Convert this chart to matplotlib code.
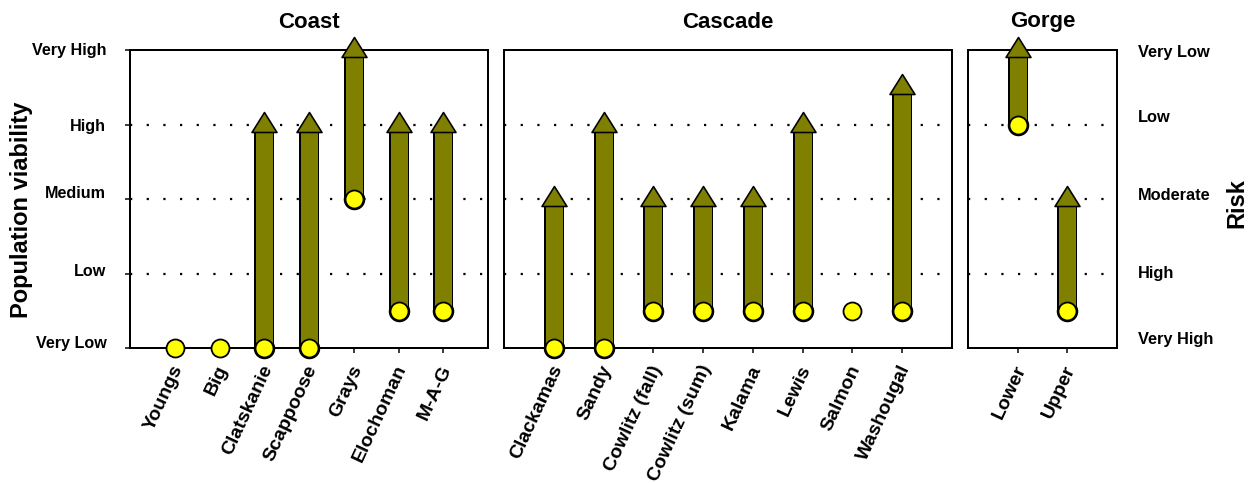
import numpy as np
import matplotlib
matplotlib.use("Agg")
import matplotlib.pyplot as plt
from matplotlib.path import Path
from matplotlib.transforms import ScaledTranslation, blended_transform_factory

plt.rcParams['font.family'] = ['Liberation Sans', 'DejaVu Sans']
plt.rcParams['font.weight'] = 'bold'

# ---------------- data ----------------
viability_levels = ["Very Low", "Low", "Medium", "High", "Very High"]
risk_levels = ["Very High", "High", "Moderate", "Low", "Very Low"]

coast_names = ["Youngs", "Big", "Clatskanie", "Scappoose", "Grays", "Elochoman", "M-A-G"]
coast_start = [0, 0, 0, 0, 2, 0.5, 0.5]
coast_end = [np.nan, np.nan, 3, 3, 4, 3, 3]

cascade_names = ["Clackamas", "Sandy", "Cowlitz (fall)", "Cowlitz (sum)", "Kalama",
                 "Lewis", "Salmon", "Washougal"]
cascade_start = [0, 0, 0.5, 0.5, 0.5, 0.5, 0.5, 0.5]
cascade_end = [2, 3, 2, 2, 2, 3, np.nan, 3.5]

gorge_names = ["Lower", "Upper"]
gorge_start = [3, 0.5]
gorge_end = [4, 2]

panel_titles = ["Coast", "Cascade", "Gorge"]

# ---------------- figure ----------------
W, H = 1253, 483
DPI = 100
fig = plt.figure(figsize=(W / DPI, H / DPI), dpi=DPI)
PX = 72.0 / DPI  # points per pixel

def axes_px(left, right, top, bottom):
    return fig.add_axes([left / W, 1 - bottom / H, (right - left) / W, (bottom - top) / H])

ax1 = axes_px(130, 488, 50, 348)
ax2 = axes_px(504, 952, 50, 348)
ax3 = axes_px(968, 1117, 50, 348)

OLIVE = '#808000'
YELLOW = '#FFFF00'
units_px = 298 / 4.0
head_base = 7 / units_px

head_path = Path([(-12.5, -7), (12.5, -7), (0, 13), (-12.5, -7)],
                 [Path.MOVETO, Path.LINETO, Path.LINETO, Path.CLOSEPOLY])


def draw_panel(ax, names, start, end, title):
    n = len(names)
    x = np.arange(n)
    ax.set_xlim(-1, n)
    ax.set_ylim(0, 4)
    for y in [1, 2, 3]:
        ax.axhline(y, color='black', lw=1.6, ls=(0, (1, 6.5)), zorder=1)
    for xi, s, e in zip(x, start, end):
        if not np.isnan(e):
            ax.plot([xi, xi], [s, e - head_base], color='black', lw=20 * PX,
                    solid_capstyle='butt', zorder=4, clip_on=False)
            ax.plot([xi], [s], marker='o', ms=20 * PX, mfc=OLIVE, mec='black',
                    mew=1.5 * PX, zorder=4.1, clip_on=False)
            ax.plot([xi, xi], [s, e - head_base], color=OLIVE, lw=17 * PX,
                    solid_capstyle='butt', zorder=4.2, clip_on=False)
            ax.plot([xi], [e], marker=head_path, ms=26 * PX, mfc=OLIVE, mec='black',
                    mew=1.6 * PX, zorder=4.3, clip_on=False, ls='none')
        ax.plot([xi], [s], marker='o', ms=18 * PX, mfc=YELLOW, mec='black',
                mew=1.8 * PX, zorder=5, clip_on=False, ls='none')
    ax.set_xticks(x)
    ax.set_xticklabels(names, rotation=65, ha='right', va='center',
                       rotation_mode='anchor', fontsize=14, fontweight='bold')
    ax.tick_params(axis='x', direction='out', length=5 * PX, width=1.5 * PX, pad=8)
    for lbl in ax.get_xticklabels():
        lbl.set_transform(lbl.get_transform() +
                          ScaledTranslation(4 / DPI, -2 / DPI, fig.dpi_scale_trans))
    for sp in ax.spines.values():
        sp.set_linewidth(2 * PX)
        sp.set_zorder(2.5)
    ax.text(0.5, 1 + 28 / 298, title, transform=ax.transAxes, ha='center', va='center',
            fontsize=16, fontweight='bold')


draw_panel(ax1, coast_names, coast_start, coast_end, panel_titles[0])
draw_panel(ax2, cascade_names, cascade_start, cascade_end, panel_titles[1])
draw_panel(ax3, gorge_names, gorge_start, gorge_end, panel_titles[2])

# left axis labels
ax1.set_yticks(range(5))
ax1.set_yticklabels(viability_levels, fontsize=11.6, fontweight='bold')
ax1.tick_params(axis='y', direction='out', length=5 * PX, width=1.5 * PX, pad=13.5)
left_offsets_px = [6, 4, 7, 0, 1]
for lbl, dy in zip(ax1.get_yticklabels(), left_offsets_px):
    lbl.set_transform(lbl.get_transform() + ScaledTranslation(0, dy / DPI, fig.dpi_scale_trans))
for ax in (ax2, ax3):
    ax.set_yticks([])

# right axis labels (risk)
trans = blended_transform_factory(ax3.transAxes, ax3.transData)
right_offsets = [0.11, 0.0, 0.05, 0.09, -0.04]
for i, (lab, off) in enumerate(zip(risk_levels, right_offsets)):
    ax3.text((1138 - 968) / 149, i + off, lab, transform=trans, ha='left', va='center',
             fontsize=11.8, fontweight='bold')

fig.text(22 / W, 1 - 210 / H, "Population viability", rotation=90, ha='center',
         va='center', fontsize=17, fontweight='bold')
fig.text(1237 / W, 1 - 203 / H, "Risk", rotation=90, ha='center', va='center',
         fontsize=17, fontweight='bold')

fig.savefig("out.png", dpi=DPI)
